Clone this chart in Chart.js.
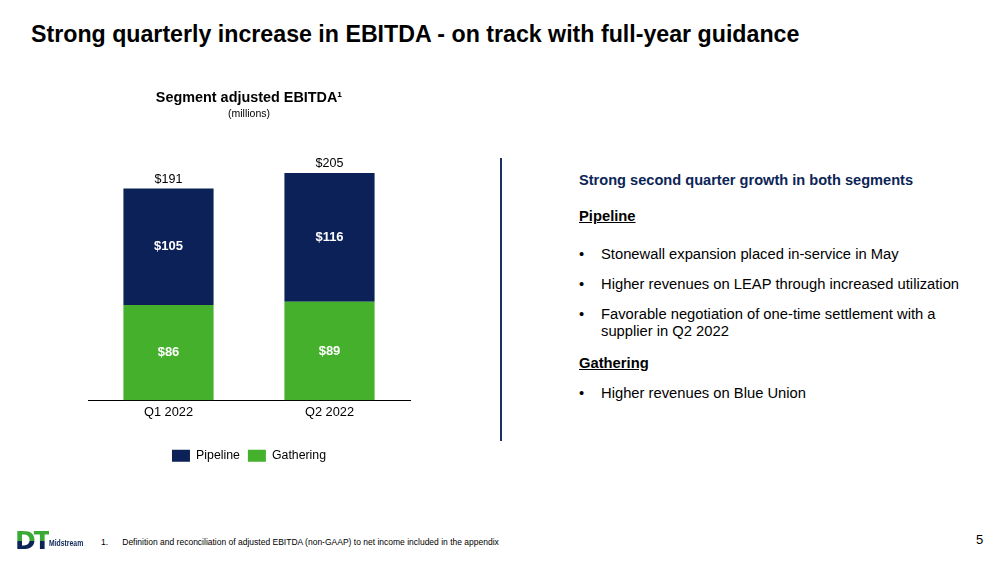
<!DOCTYPE html>
<html>
<head>
<meta charset="utf-8">
<script src="https://cdn.jsdelivr.net/npm/chart.js@4.4.0/dist/chart.umd.min.js"></script>
<style>
  body { margin: 0; background: #fff; font-family: "Liberation Sans", Arial, sans-serif; }
  #page { position: relative; width: 1008px; height: 566px; overflow: hidden; }
  .abs { position: absolute; white-space: nowrap; }
  #title { left: 31px; top: 21px; font-size: 23.2px; font-weight: bold; color: #000; }
  #chartBox { position: absolute; left: 80px; top: 84px; width: 350px; height: 396px; }
  #divider { position: absolute; left: 500px; top: 158px; width: 2px; height: 283px; background: #1b2f63; }
  #right { position: absolute; left: 579px; top: 170px; width: 400px; font-size: 14.75px; color: #000; }
  #right .head { font-weight: bold; color: #0b2557; font-size: 14.6px; }
  #right .sub { font-weight: bold; text-decoration: underline; position: absolute; left: 0; }
  #right .li { position: absolute; left: 0; }
  #right .li span { position: absolute; left: 22px; white-space: nowrap; line-height: 17px; }
  #foot { left: 101px; top: 537px; font-size: 8.5px; color: #000; }
  #pagenum { left: 976px; top: 532px; font-size: 13px; color: #000; }
  #logoDT { left: 15px; top: 526px; font-size: 25px; font-weight: 900; letter-spacing: -2px;
    background: linear-gradient(to bottom, #3aa935 0 52%, #0b2557 52% 100%);
    -webkit-background-clip: text; background-clip: text; color: transparent; font-family: "DejaVu Sans", sans-serif; }
  #logoTxt { left: 49px; top: 537px; font-size: 9.5px; font-weight: bold; color: #0b2557;
    transform: scaleX(0.72); transform-origin: left top; }
</style>
</head>
<body>
<div id="page">
  <div id="title" class="abs">Strong quarterly increase in EBITDA - on track with full-year guidance</div>

  <div id="chartBox"><canvas id="myChart"></canvas></div>

  <div id="divider"></div>

  <div id="right">
    <div class="head abs" style="top:2px">Strong second quarter growth in both segments</div>
    <div class="sub" style="top:38px">Pipeline</div>
    <div class="li" style="top:76px">•<span>Stonewall expansion placed in-service in May</span></div>
    <div class="li" style="top:106px">•<span>Higher revenues on LEAP through increased utilization</span></div>
    <div class="li" style="top:136px">•<span>Favorable negotiation of one-time settlement with a<br>supplier in Q2 2022</span></div>
    <div class="sub" style="top:185px">Gathering</div>
    <div class="li" style="top:215px">•<span>Higher revenues on Blue Union</span></div>
  </div>

  <div id="logoDT" class="abs">DT</div>
  <div id="logoTxt" class="abs">Midstream</div>
  <div id="foot" class="abs">1.&nbsp;&nbsp;&nbsp;&nbsp;&nbsp;&nbsp;Definition and reconciliation of adjusted EBITDA (non-GAAP) to net income included in the appendix</div>
  <div id="pagenum" class="abs">5</div>
</div>

<script>
let quarters = ["Q1 2022", "Q2 2022"];
let pipeline = [105, 116];
let gathering = [86, 89];
let totals = [191, 205];

const navy = "#0b2157";
const green = "#44b02c";

// writes the segment values inside the bars and the totals above them
let barLabels = {
    id: "barLabels",
    afterDatasetsDraw(chart) {
        let ctx = chart.ctx;
        ctx.save();
        ctx.textAlign = "center";
        ctx.textBaseline = "middle";
        chart.data.datasets.forEach((ds, i) => {
            let meta = chart.getDatasetMeta(i);
            meta.data.forEach((bar, j) => {
                let mid = (bar.y + bar.base) / 2;
                ctx.fillStyle = "#fff";
                ctx.font = "bold 13px 'Liberation Sans', Arial";
                ctx.fillText("$" + ds.data[j], bar.x, mid);
            });
        });
        let topMeta = chart.getDatasetMeta(1);
        topMeta.data.forEach((bar, j) => {
            ctx.fillStyle = "#000";
            ctx.font = "12.5px 'Liberation Sans', Arial";
            ctx.fillText("$" + totals[j], bar.x, bar.y - 9);
        });
        ctx.restore();
    }
};

let config = {
    type: "bar",
    data: {
        labels: quarters,
        datasets: [
            {
                label: "Gathering",
                data: gathering,
                backgroundColor: green,
                barPercentage: 0.56,
                categoryPercentage: 1
            },
            {
                label: "Pipeline",
                data: pipeline,
                backgroundColor: navy,
                barPercentage: 0.56,
                categoryPercentage: 1
            }
        ]
    },
    options: {
        responsive: true,
        maintainAspectRatio: false,
        animation: false,
        layout: {
            padding: { left: 8, right: 20, top: 0, bottom: 8 }
        },
        plugins: {
            title: {
                display: true,
                text: "Segment adjusted EBITDA¹",
                color: "#000",
                font: { family: "'Liberation Sans', Arial", size: 14.4, weight: "bold" },
                padding: { top: 5, bottom: 2 }
            },
            subtitle: {
                display: true,
                text: "(millions)",
                color: "#000",
                font: { family: "'Liberation Sans', Arial", size: 10.5 },
                padding: { bottom: 0 }
            },
            legend: {
                position: "bottom",
                reverse: true,
                labels: {
                    color: "#000",
                    boxWidth: 18,
                    boxHeight: 12,
                    padding: 8,
                    font: { family: "'Liberation Sans', Arial", size: 12.3 }
                }
            },
            tooltip: { enabled: false }
        },
        scales: {
            x: {
                stacked: true,
                grid: { display: false, drawTicks: false },
                border: { display: true, color: "#000", width: 1 },
                ticks: {
                    color: "#000",
                    padding: 4,
                    font: { family: "'Liberation Sans', Arial", size: 12.8 }
                },
                afterFit(scale) {
                    scale.height += 18;
                }
            },
            y: {
                stacked: true,
                display: false,
                min: 0,
                max: 252
            }
        }
    },
    plugins: [barLabels]
};

let ctx = document.getElementById("myChart").getContext("2d");
let myChart = new Chart(ctx, config);
</script>
</body>
</html>
